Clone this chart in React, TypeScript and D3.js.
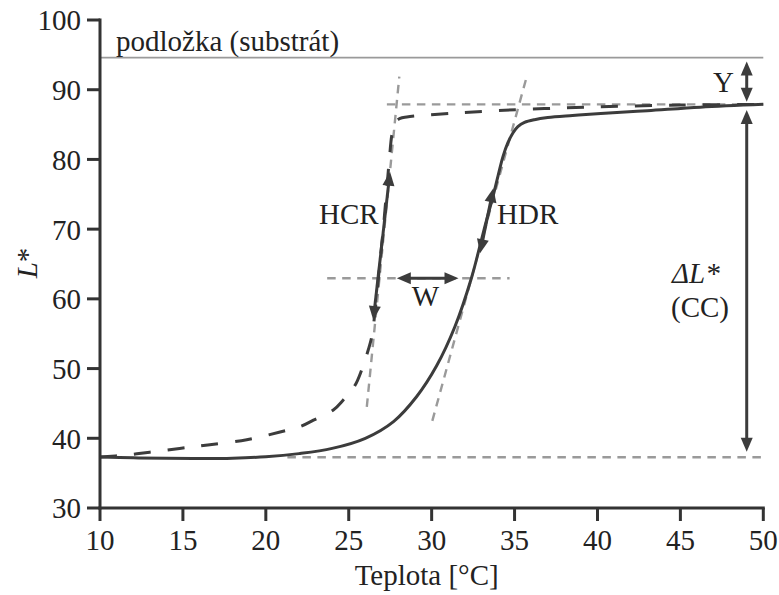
import React from "react";
import * as d3 from "d3";

// ---- data ----
const heatingX = [10, 12, 14, 16, 18, 20, 22, 24, 26, 27.7, 29.1, 30.3, 31.4, 32.4, 32.9, 33.3, 33.7, 34.0, 34.3, 34.6, 34.9, 35.2, 35.6, 36.2, 37.0, 38.5, 40.2, 43, 46.2, 50];
const heatingY = [37.3, 37.2, 37.12, 37.1, 37.15, 37.35, 37.8, 38.55, 40.0, 42.4, 46.0, 50.4, 56.0, 63.0, 67.5, 71.2, 74.7, 77.6, 80.4, 82.4, 83.8, 84.7, 85.3, 85.7, 86.0, 86.3, 86.6, 87.0, 87.5, 87.9];

const coolingX = [10, 11.6, 13, 14.8, 16.5, 18.85, 20.86, 22.06, 22.87, 24.07, 24.67, 25.38, 25.78, 26.18, 26.4, 26.6, 26.85, 27.1, 27.3, 27.45, 27.6, 27.8, 28.1, 28.5, 31.1, 33.9, 36.9, 40, 45, 50];
const coolingY = [37.3, 37.6, 38.0, 38.55, 39.05, 39.8, 40.9, 41.66, 42.6, 44.06, 45.5, 47.6, 49.8, 52.7, 54.7, 58.5, 64.5, 70.5, 76.0, 80.0, 83.5, 85.3, 85.9, 86.1, 86.6, 87.0, 87.3, 87.55, 87.8, 87.9];

const xTicks = [10, 15, 20, 25, 30, 35, 40, 45, 50];
const yTicks = [30, 40, 50, 60, 70, 80, 90, 100];

const substrateLevel = 94.6;
const topLevel = 87.9;
const bottomLevel = 37.27;
const midLevel = 62.95;

// tangent lines [x1, y1, x2, y2]
const tangentHCR = [26.09, 44.5, 28.05, 91.87];
const tangentHDR = [30.04, 42.5, 35.69, 91.5];

// annotation arrows [x1, y1, x2, y2]
const arrowHCR = [26.48, 56.97, 27.49, 78.24];
const arrowHDR = [32.92, 66.54, 33.72, 75.86];
const arrowW = [27.9, 62.95, 31.62, 62.95];
const arrowY = [49.0, 94.05, 49.0, 88.28];
const arrowDL = [49.0, 87.1, 49.0, 38.08];

const FONT = "'Liberation Serif', 'Times New Roman', serif";
const DARK = "#3c3c3c";
const GRAY = "#9a9a9a";
const FS = 29;

function Arrow({ p, x, y }: { p: number[]; x: any; y: any }) {
  const x1 = x(p[0]), y1 = y(p[1]), x2 = x(p[2]), y2 = y(p[3]);
  const dx = x2 - x1, dy = y2 - y1;
  const len = Math.hypot(dx, dy);
  const ux = dx / len, uy = dy / len;
  const px = -uy, py = ux;
  const hl = 14, hw = 6;
  const head = (tx: number, ty: number, dirx: number, diry: number) => {
    const bx = tx - dirx * hl, by = ty - diry * hl;
    return `${tx},${ty} ${bx + px * hw},${by + py * hw} ${bx - px * hw},${by - py * hw}`;
  };
  return (
    <g>
      <line x1={x1 + ux * 8} y1={y1 + uy * 8} x2={x2 - ux * 8} y2={y2 - uy * 8} stroke={DARK} strokeWidth={3} />
      <polygon points={head(x2, y2, ux, uy)} fill={DARK} />
      <polygon points={head(x1, y1, -ux, -uy)} fill={DARK} />
    </g>
  );
}

export default function App() {
  const W = 779, H = 595;
  const x = d3.scaleLinear().domain([10, 50]).range([100, 763.3]);
  const y = d3.scaleLinear().domain([30, 100]).range([508, 20]);

  const heatPath = d3
    .line<number>()
    .x((d, i) => x(heatingX[i]))
    .y((d) => y(d))
    .curve(d3.curveCatmullRom.alpha(0.5))(heatingY) as string;
  const coolPath = d3
    .line<number>()
    .x((d, i) => x(coolingX[i]))
    .y((d) => y(d))
    .curve(d3.curveCatmullRom.alpha(0.5))(coolingY) as string;

  const tick = 13;

  return (
    <svg width={W} height={H} style={{ position: "absolute", left: 0, top: 0 }} fontFamily={FONT}>
      <rect width={W} height={H} fill="#fff" />
      {/* substrate line */}
      <line x1={x(10)} x2={x(50)} y1={y(substrateLevel)} y2={y(substrateLevel)} stroke={GRAY} strokeWidth={1.6} />
      <text x={116} y={51} fontSize={FS} fill="#222">podložka (substrát)</text>

      {/* reference dashed lines */}
      <g stroke={GRAY} strokeWidth={2.4} strokeDasharray="8.5,6.5" fill="none">
        <line x1={x(27.3)} x2={x(50)} y1={y(topLevel)} y2={y(topLevel)} />
        <line x1={x(21.3)} x2={x(50)} y1={y(bottomLevel)} y2={y(bottomLevel)} />
        <line x1={x(23.7)} x2={x(34.7)} y1={y(midLevel)} y2={y(midLevel)} />
        <line x1={x(tangentHCR[0])} y1={y(tangentHCR[1])} x2={x(tangentHCR[2])} y2={y(tangentHCR[3])} />
        <line x1={x(tangentHDR[0])} y1={y(tangentHDR[1])} x2={x(tangentHDR[2])} y2={y(tangentHDR[3])} />
      </g>

      {/* curves */}
      <path d={coolPath} fill="none" stroke={DARK} strokeWidth={3} strokeDasharray="17,17" />
      <path d={heatPath} fill="none" stroke={DARK} strokeWidth={3} />

      {/* arrows */}
      <Arrow p={arrowHCR} x={x} y={y} />
      <Arrow p={arrowHDR} x={x} y={y} />
      <Arrow p={arrowW} x={x} y={y} />
      <Arrow p={arrowY} x={x} y={y} />
      <Arrow p={arrowDL} x={x} y={y} />

      {/* annotation text */}
      <g fontSize={FS} fill="#222">
        <text x={319} y={224}>HCR</text>
        <text x={497} y={224}>HDR</text>
        <text x={425.5} y={306} textAnchor="middle">W</text>
        <text x={713} y={92}>Y</text>
        <text x={672} y={283} fontStyle="italic">ΔL*</text>
        <text x={671} y={317}>(CC)</text>
      </g>

      {/* axes */}
      <g stroke="#333" strokeWidth={3}>
        <line x1={x(10)} x2={x(10)} y1={y(30) + 1.5} y2={y(100) - 1.5} />
        <line x1={x(10) - 1.5} x2={x(50) + 1.5} y1={y(30)} y2={y(30)} />
        {yTicks.map((t) => (
          <line key={"yt" + t} x1={x(10) - tick} x2={x(10)} y1={y(t)} y2={y(t)} />
        ))}
        {xTicks.map((t) => (
          <line key={"xt" + t} x1={x(t)} x2={x(t)} y1={y(30)} y2={y(30) + tick} />
        ))}
      </g>
      <g fontSize={FS} fill="#222">
        {yTicks.map((t) => (
          <text key={"yl" + t} x={81} y={y(t)} dy="0.36em" textAnchor="end">{t}</text>
        ))}
        {xTicks.map((t) => (
          <text key={"xl" + t} x={x(t)} y={550} textAnchor="middle">{t}</text>
        ))}
        <text x={426.7} y={585} textAnchor="middle">Teplota [°C]</text>
        <text transform={`translate(37,263) rotate(-90)`} textAnchor="middle">
          <tspan fontStyle="italic">L</tspan>*
        </text>
      </g>
    </svg>
  );
}
